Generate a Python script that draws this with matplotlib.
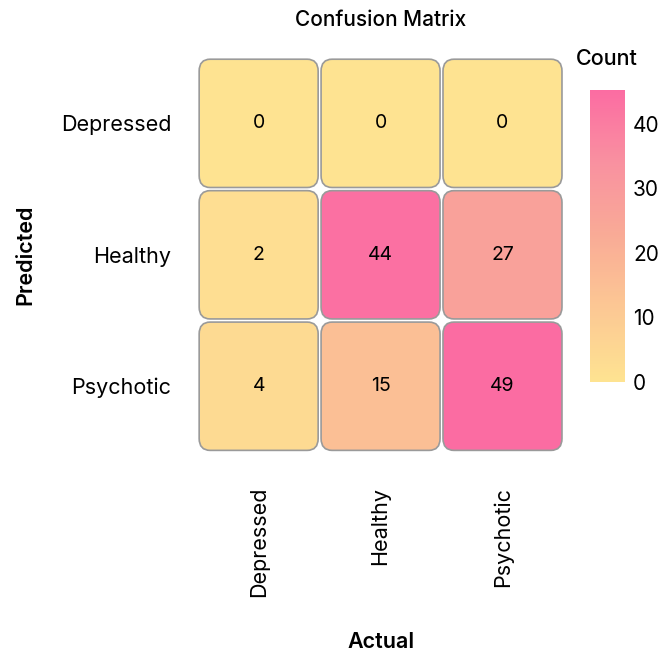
import matplotlib
matplotlib.use("Agg")
import matplotlib.pyplot as plt
import numpy as np
from matplotlib.colors import LinearSegmentedColormap, Normalize
from matplotlib.patches import FancyBboxPatch
from matplotlib.cm import ScalarMappable

plt.rcParams['font.family'] = ['Inter', 'DejaVu Sans']

predicted = ["Depressed", "Healthy", "Psychotic"]
actual = ["Depressed", "Healthy", "Psychotic"]
counts = np.array([
    [0, 0, 0],
    [2, 44, 27],
    [4, 15, 49],
])

cmap = LinearSegmentedColormap.from_list(
    "yp", ["#fee391", "#fcc894", "#f9ab96", "#f991a0", "#fb6ca2"])
norm = Normalize(vmin=0, vmax=45.3)

fig = plt.figure(figsize=(6.59, 6.55), dpi=100)
ax = fig.add_axes([0.300, 0.310, 0.555, 0.602])

gap = 0.012
for i in range(len(predicted)):
    for j in range(len(actual)):
        v = counts[i, j]
        box = FancyBboxPatch((j - 0.5 + gap, i - 0.5 + gap), 1 - 2 * gap, 1 - 2 * gap,
                             boxstyle="round,pad=0,rounding_size=0.09",
                             facecolor=cmap(norm(v)), edgecolor="#9a9a9a", linewidth=1.2)
        ax.add_patch(box)
        ax.text(j, i, str(v), ha="center", va="center", fontsize=14, color="black")

ax.set_xlim(-0.5, 2.5)
ax.set_ylim(2.5, -0.5)
ax.set_xticks(range(len(actual)))
ax.set_xticklabels(actual, rotation=90, fontsize=15.5)
ax.set_yticks(range(len(predicted)))
ax.set_yticklabels(predicted, fontsize=15.5)
ax.tick_params(length=0, pad=19)
ax.tick_params(axis='x', pad=25)
for s in ax.spines.values():
    s.set_visible(False)

ax.set_title("Confusion Matrix", fontsize=15, fontweight="medium", pad=23)
ax.set_xlabel("Actual", fontsize=15.5, fontweight="semibold", labelpad=25)
ax.set_ylabel("Predicted", fontsize=15.5, fontweight="semibold", labelpad=18)

cax = fig.add_axes([0.895, 0.417, 0.053, 0.446])
sm = ScalarMappable(norm=norm, cmap=cmap)
cb = fig.colorbar(sm, cax=cax, ticks=[0, 10, 20, 30, 40])
cb.outline.set_visible(False)
cb.ax.tick_params(length=0, labelsize=15, pad=6)
cb.ax.set_title("Count", fontsize=15.5, fontweight="medium", pad=18)

fig.savefig("out.png", dpi=100)
